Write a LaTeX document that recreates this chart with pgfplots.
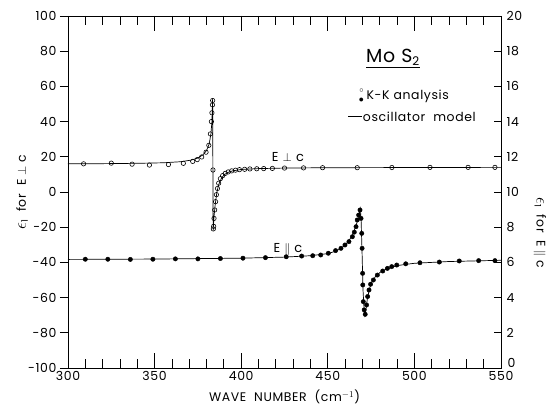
\documentclass[border=0pt]{standalone}
\usepackage{pgfplots}
\pgfplotsset{compat=1.18}
\usepackage{fontspec}
\setmainfont{Poppins}[LetterSpace=5]
\newcommand{\tf}{\fontsize{12.5}{13}\selectfont}
\newcommand{\eps}{{\fontsize{17}{17}\selectfont$\epsilon$}\raisebox{-2bp}{\fontsize{9}{9}\selectfont 1}}
\begin{document}
\begin{tikzpicture}
\pgfplotsset{
  common/.style={
    scale only axis, width=433bp, height=352bp,
    xmin=300, xmax=550,
    /pgf/number format/assume math mode=true,
    tick label style={font=\tf},
    label style={font=\tf},
    axis line style={line width=0.9pt},
    every tick/.style={line width=0.8pt,black},
  }
}
% main box axis with x ticks and E perp c data
\begin{axis}[common, name=A,
  ymin=-100, ymax=100,
  ytick=\empty,
  xtick={300,350,...,550},
  minor xtick={310,320,...,540},
  tick align=inside,
  xtick pos=both,
  major tick length=15bp, minor tick length=9bp,
  xlabel={WAVE\ \ NUMBER\ \ (cm$^{-1}$)},
  xlabel style={at={(axis description cs:0.5,-0.082)}, anchor=center},
  clip=false,
]
\addplot[black, line width=0.7pt] coordinates {
(300,16.0) (320,16.1) (340,16.3) (355,16.6) (365,17.2) (371,18.1) (375,19.3)
(378,21.2) (380,23.6) (381.5,27.2) (382.5,33) (383.1,40) (383.5,53) (383.8,-22)
(384.3,-14) (385,-7) (386,0) (387,4.2) (388.5,7.6) (390,9.6) (392,11) (395,12)
(400,12.8) (410,13.3) (425,13.6) (450,13.8) (500,13.9) (550,14.0)
};
\addplot[only marks, mark=o, mark size=2.2bp, mark options={fill=white, line width=0.6pt}] coordinates {
(309,16.0) (325,16.4) (337,15.8) (347,15.3) (358,15.6) (366.6,16.3) (372,17.4)
(374.6,18.4) (377.2,19.9) (379.7,22.6) (381.3,26.5) (382.2,33) (382.8,40)
(383.1,45) (383.4,49.5) (383.5,52) (383.7,12.5) (383.9,-21) (384.1,-19.5)
(384.3,-15) (384.7,-10.2) (385.2,-5.5) (385.7,-1.5) (386.3,2) (387.0,5)
(388.0,7.6) (389.3,9.3) (390.8,10.6) (392.5,11.4) (394.5,12) (396.7,12.4)
(399,12.7) (402,12.9) (405,13.1) (409,13.2) (413,13.3) (418,13.4) (425,13.6)
(436,13.7) (447,13.8) (467,13.8) (487,13.9) (509,14.0) (531,14.0) (546.5,14.0)
};
\node[font=\fontsize{13}{14}\selectfont] at (axis cs:427,20) {E $\perp$ c};
\node[font=\fontsize{19}{20}\selectfont] at (axis cs:487.6,76) {\underline{Mo\ S\textsubscript{\fontsize{12}{12}\selectfont 2}}};
\node[inner sep=0pt] at (axis cs:469.4,57.5) {\fontsize{8}{8}\selectfont$\circ$};
\node[inner sep=0pt] at (axis cs:469.4,52.3) {\fontsize{10}{10}\selectfont$\bullet$};
\node[anchor=west, font=\tf, inner sep=0pt] at (axis cs:472.3,54.2) {K-K analysis};
\draw[line width=0.7pt] (axis cs:461.8,43) -- (axis cs:469.6,43);
\node[anchor=west, font=\tf, inner sep=0pt] at (axis cs:470.2,43) {oscillator\ \ model};
\end{axis}
% left y axis, outward ticks
\begin{axis}[common,
  ymin=-100, ymax=100,
  axis x line=none, axis y line*=left,
  ytick={-100,-80,...,100},
  tick align=outside, major tick length=8bp,
  ylabel={\eps\ \ for\ \ E $\perp$ c},
  ylabel style={at={(axis description cs:-0.106,0.5)}, anchor=center},
]
\end{axis}
% right y axis, E par c data
\begin{axis}[common,
  ymin=0, ymax=20,
  axis x line=none, axis y line*=right,
  ytick={2,4,...,20},
  extra y ticks={0},
  extra y tick style={yticklabel style={yshift=5bp, xshift=1bp}},
  tick align=inside, major tick length=7bp,
  yticklabel style={xshift=2bp},
  ylabel={\eps\ \ for\ \ E $\parallel$ c},
  ylabel style={rotate=180, at={(axis description cs:1.090,0.384)}, anchor=center},
  clip=false,
]
\addplot[black, line width=0.7pt] coordinates {
(300,6.17) (350,6.19) (400,6.24) (425,6.30) (440,6.38) (450,6.50) (455,6.65)
(459,6.90) (462,7.20) (464.5,7.60) (466.5,8.15) (468,8.70) (468.8,9.05)
(469.2,8.5) (469.8,6.5) (470.3,4.5) (470.9,3.4) (471.4,3.0) (472,3.3)
(472.8,3.9) (474,4.5) (475.5,4.9) (477.5,5.2) (480,5.42) (484,5.63)
(490,5.82) (500,5.95) (520,6.05) (550,6.12)
};
\addplot[only marks, mark=*, mark size=2.2bp] coordinates {
(310,6.18) (323,6.18) (336,6.17) (349,6.18) (362,6.20) (375,6.20) (388,6.22)
(401,6.24) (414,6.27) (426,6.32) (434.9,6.36) (441.3,6.38) (445.9,6.42)
(450.3,6.52) (454.5,6.67) (457.6,6.80) (459.9,6.99) (462.2,7.18) (464.2,7.46)
(465.3,7.72) (466.3,8.03) (467.0,8.41) (467.8,8.69) (468.6,8.98) (469.2,8.5)
(469.6,7.65) (469.8,6.8) (470.1,5.38) (470.2,4.72) (470.5,3.77) (471.0,3.30)
(471.6,3.05) (472.4,3.58) (473.0,4.06) (473.8,4.43) (474.7,4.76) (476.3,5.00)
(478.6,5.28) (481.7,5.51) (484.4,5.66) (486.9,5.76) (489.8,5.85) (495,5.92)
(503.2,5.98) (514.4,6.02) (525.9,6.08) (537.1,6.10) (546.5,6.10)
};
\node[font=\fontsize{13}{14}\selectfont] at (axis cs:427,6.75) {E $\parallel$ c};
\end{axis}
\pgfresetboundingbox
\path[use as bounding box] ([xshift=-68bp,yshift=-41bp]A.south west) rectangle ([xshift=51bp,yshift=16bp]A.north east);
\end{tikzpicture}
\end{document}
